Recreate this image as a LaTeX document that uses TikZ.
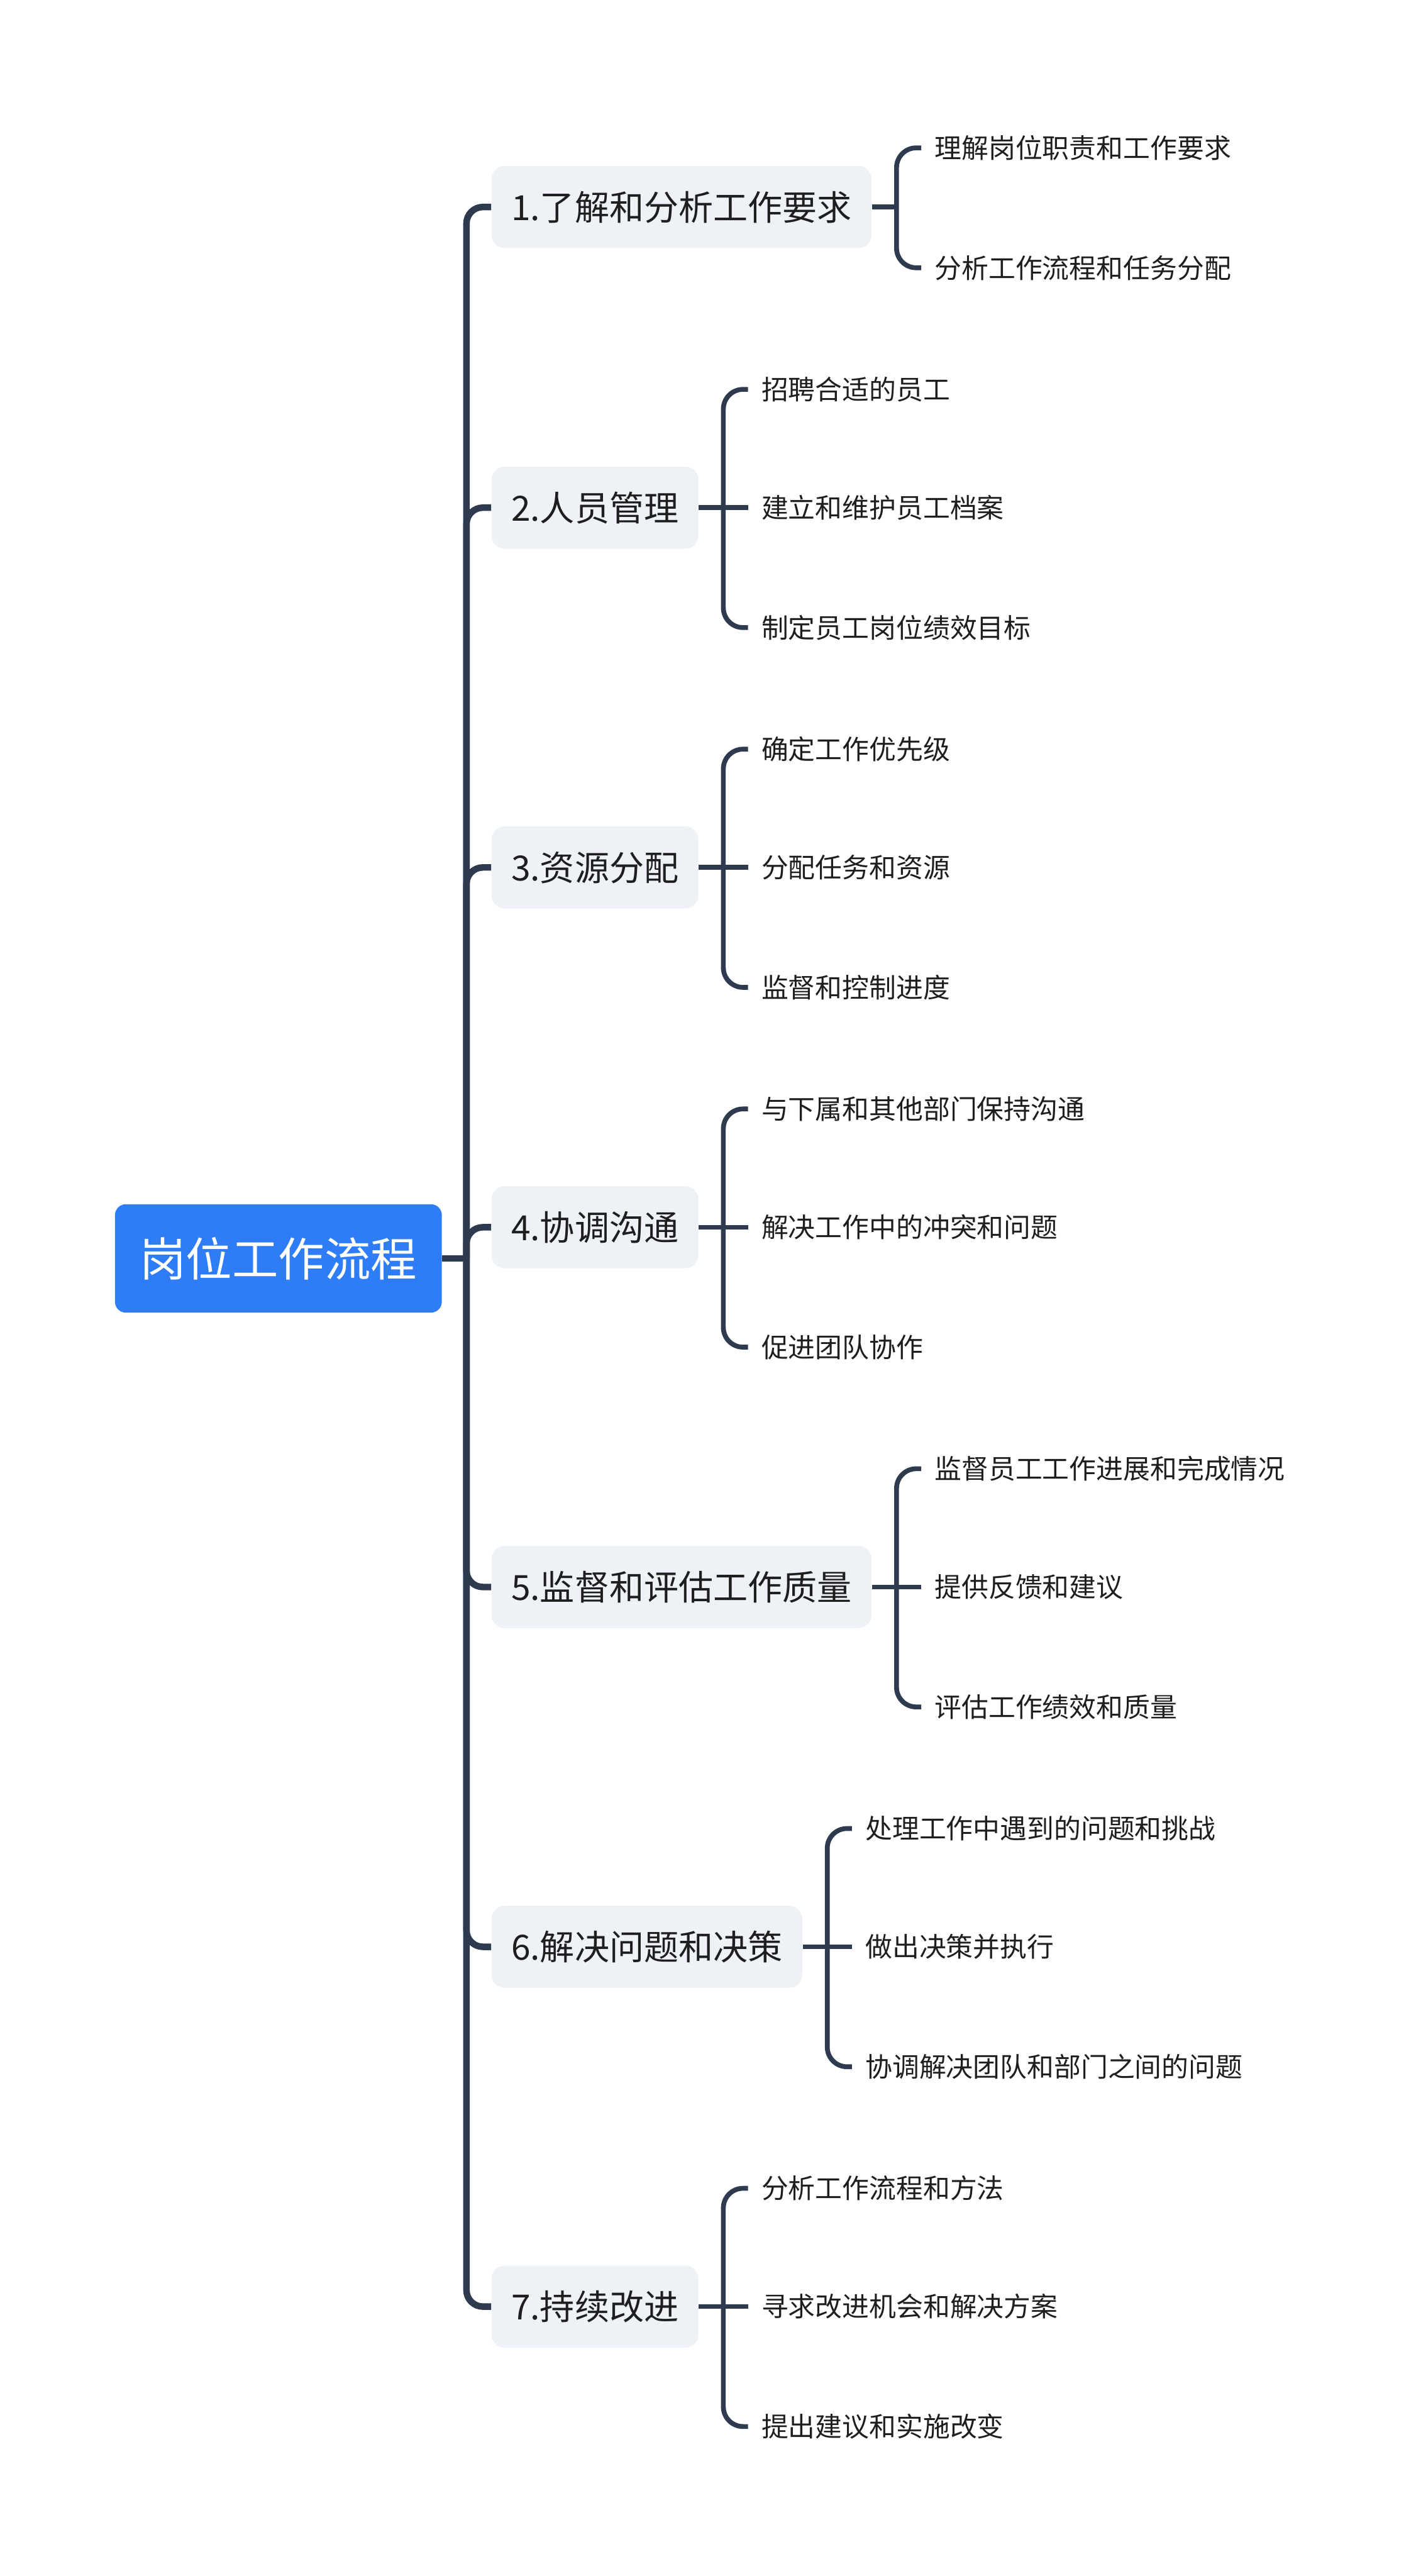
\documentclass[tikz,border=0pt]{standalone}
\usepackage{fontspec}
\newfontfamily\cjk{Noto Sans CJK SC}
\usepackage{xcolor}
\usepackage{tikz}
\usetikzlibrary{positioning,calc}

\definecolor{linkslate}{RGB}{46,58,78}
\definecolor{rootblue}{RGB}{47,125,246}
\definecolor{topicgray}{RGB}{238,241,245}
\definecolor{inkdark}{RGB}{30,30,30}

\begin{document}
\begin{tikzpicture}[
                x=0.03cm, y=-0.03cm,
                font=\cjk,
                root/.style={fill=rootblue, rounded corners=0.2cm, text=white, minimum width=5.97cm, minimum height=1.98cm, font=\cjk\fontsize{24pt}{28pt}\selectfont},
                topic/.style={fill=topicgray, rounded corners=0.24cm, anchor=west, minimum height=1.5cm, inner xsep=0.36cm, text=inkdark, font=\cjk\fontsize{18pt}{22pt}\selectfont},
                leaf/.style={anchor=west, inner xsep=0.24cm, text=inkdark, font=\cjk\fontsize{14pt}{17pt}\selectfont},
                trunk/.style={draw=linkslate, line width=3.4pt, rounded corners=0.3cm},
                twig/.style={draw=linkslate, line width=2.5pt, rounded corners=0.36cm}
            ]
            \useasboundingbox (0,0) rectangle (862,1568);
            % root and main topics
            \node[root] (root) at (169.5,766) {岗位工作流程};
            \coordinate (hub) at (284,766);
            \node[topic] (t1) at (299,126) {1.了解和分析工作要求};
            \node[topic] (t2) at (299,309) {2.人员管理};
            \node[topic] (t3) at (299,528) {3.资源分配};
            \node[topic] (t4) at (299,747) {4.协调沟通};
            \node[topic] (t5) at (299,966) {5.监督和评估工作质量};
            \node[topic] (t6) at (299,1185) {6.解决问题和决策};
            \node[topic] (t7) at (299,1404) {7.持续改进};
            \draw[trunk] (root.east) -- (hub);
            \foreach \t in {t1,t2,t3,t4,t5,t6,t7}
                \draw[trunk] (hub) |- (\t.west);
            % subtopics
            \node[leaf] (l11) at ($(t1.east)+(30,-36)$) {理解岗位职责和工作要求};
            \node[leaf] (l12) at ($(t1.east)+(30,37)$) {分析工作流程和任务分配};
            \node[leaf] (l21) at ($(t2.east)+(30,-72)$) {招聘合适的员工};
            \node[leaf] (l22) at ($(t2.east)+(30,0)$) {建立和维护员工档案};
            \node[leaf] (l23) at ($(t2.east)+(30,73)$) {制定员工岗位绩效目标};
            \node[leaf] (l31) at ($(t3.east)+(30,-72)$) {确定工作优先级};
            \node[leaf] (l32) at ($(t3.east)+(30,0)$) {分配任务和资源};
            \node[leaf] (l33) at ($(t3.east)+(30,73)$) {监督和控制进度};
            \node[leaf] (l41) at ($(t4.east)+(30,-72)$) {与下属和其他部门保持沟通};
            \node[leaf] (l42) at ($(t4.east)+(30,0)$) {解决工作中的冲突和问题};
            \node[leaf] (l43) at ($(t4.east)+(30,73)$) {促进团队协作};
            \node[leaf] (l51) at ($(t5.east)+(30,-72)$) {监督员工工作进展和完成情况};
            \node[leaf] (l52) at ($(t5.east)+(30,0)$) {提供反馈和建议};
            \node[leaf] (l53) at ($(t5.east)+(30,73)$) {评估工作绩效和质量};
            \node[leaf] (l61) at ($(t6.east)+(30,-72)$) {处理工作中遇到的问题和挑战};
            \node[leaf] (l62) at ($(t6.east)+(30,0)$) {做出决策并执行};
            \node[leaf] (l63) at ($(t6.east)+(30,73)$) {协调解决团队和部门之间的问题};
            \node[leaf] (l71) at ($(t7.east)+(30,-72)$) {分析工作流程和方法};
            \node[leaf] (l72) at ($(t7.east)+(30,0)$) {寻求改进机会和解决方案};
            \node[leaf] (l73) at ($(t7.east)+(30,73)$) {提出建议和实施改变};
            % brackets
            \coordinate (j1) at ($(t1.east)+(15,0)$);
            \draw[twig] (t1.east) -- (j1);
            \draw[twig] (j1) |- (l11.west);
            \draw[twig] (j1) |- (l12.west);
            \foreach \n in {2,...,7} {
                \coordinate (j\n) at ($(t\n.east)+(15,0)$);
                \draw[twig] (t\n.east) -- (l\n2.west);
                \draw[twig] (j\n) |- (l\n1.west);
                \draw[twig] (j\n) |- (l\n3.west);
            }
        \end{tikzpicture}
\end{document}
